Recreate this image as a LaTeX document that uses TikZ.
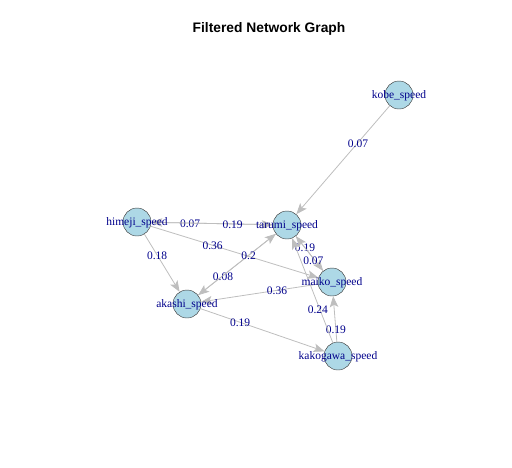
\documentclass[tikz,border=0pt]{standalone}
\usepackage{fontspec}
\setmainfont{Liberation Serif}
\newfontfamily\titlefont{Liberation Sans}
\usetikzlibrary{arrows.meta}
\definecolor{vfill}{HTML}{ADD8E6}
\definecolor{lblue}{HTML}{00008B}
\definecolor{egray}{HTML}{BEBEBE}
\tikzset{
  vert/.style={circle, fill=vfill, draw=gray!50!black, line width=0.45pt, minimum size=28pt, inner sep=0pt},
  vlabel/.style={text=lblue, font=\fontsize{11.5}{11.5}\selectfont, inner sep=0pt, yshift=-1.2pt},
  conn/.style={draw=egray, line width=0.8pt, -{Stealth[length=11pt,width=8.5pt,inset=2.5pt]}},
  elabel/.style={text=lblue, font=\fontsize{11.5}{11.5}\selectfont, inner sep=0pt, yshift=-0.8pt},
  ttl/.style={font=\titlefont\bfseries\fontsize{13.8}{14}\selectfont, inner sep=0pt}
}
\begin{document}
\begin{tikzpicture}[x=1pt,y=-1pt]
\useasboundingbox (0,0) rectangle (512,467);
\node[ttl] (title) at (269,29) {Filtered Network Graph};
% vertices
\node[vert] (ko) at (399,95) {};
\node[vert] (ta) at (287,225) {};
\node[vert] (hi) at (137,222) {};
\node[vert] (ma) at (332,282) {};
\node[vert] (ak) at (187,304) {};
\node[vert] (kg) at (338,356) {};
% edges
\draw[conn] (ko) -- node[elabel,pos=0.34] (e1) {0.07} (ta);
\draw[conn] (ta) -- node[elabel,pos=0.68] (e2) {0.07} (hi);
\draw[conn] (hi) -- node[elabel,pos=0.67] (e3) {0.19} (ta);
\draw[conn] (hi) -- node[elabel,pos=0.37] (e4) {0.36} (ma);
\draw[conn] (hi) -- node[elabel,pos=0.36] (e5) {0.18} (ak);
\draw[conn] (ta) -- node[elabel,pos=0.68] (e6) {0.08} (ak);
\draw[conn] (ak) -- node[elabel,pos=0.65] (e7) {0.2} (ta);
\draw[conn] (ta) -- node[elabel,pos=0.30,xshift=1pt] (e8) {0.19} (ma);
\draw[conn] (ma) -- node[elabel,pos=0.32,xshift=-1pt] (e9) {0.07} (ta);
\draw[conn] (ma) -- node[elabel,pos=0.35] (e10) {0.36} (ak);
\draw[conn] (ak) -- node[elabel,pos=0.32] (e11) {0.19} (kg);
\draw[conn] (kg) -- node[elabel,pos=0.28] (e12) {0.19} (ma);
\draw[conn] (kg) -- node[elabel,pos=0.32,xshift=-2pt] (e13) {0.24} (ta);
% vertex labels
\node[vlabel] (kol) at (ko) {kobe\_speed};
\node[vlabel] (tal) at (ta) {tarumi\_speed};
\node[vlabel] (hil) at (hi) {himeji\_speed};
\node[vlabel] (mal) at (ma) {maiko\_speed};
\node[vlabel] (akl) at (ak) {akashi\_speed};
\node[vlabel] (kgl) at (kg) {kakogawa\_speed};
\end{tikzpicture}
\end{document}
